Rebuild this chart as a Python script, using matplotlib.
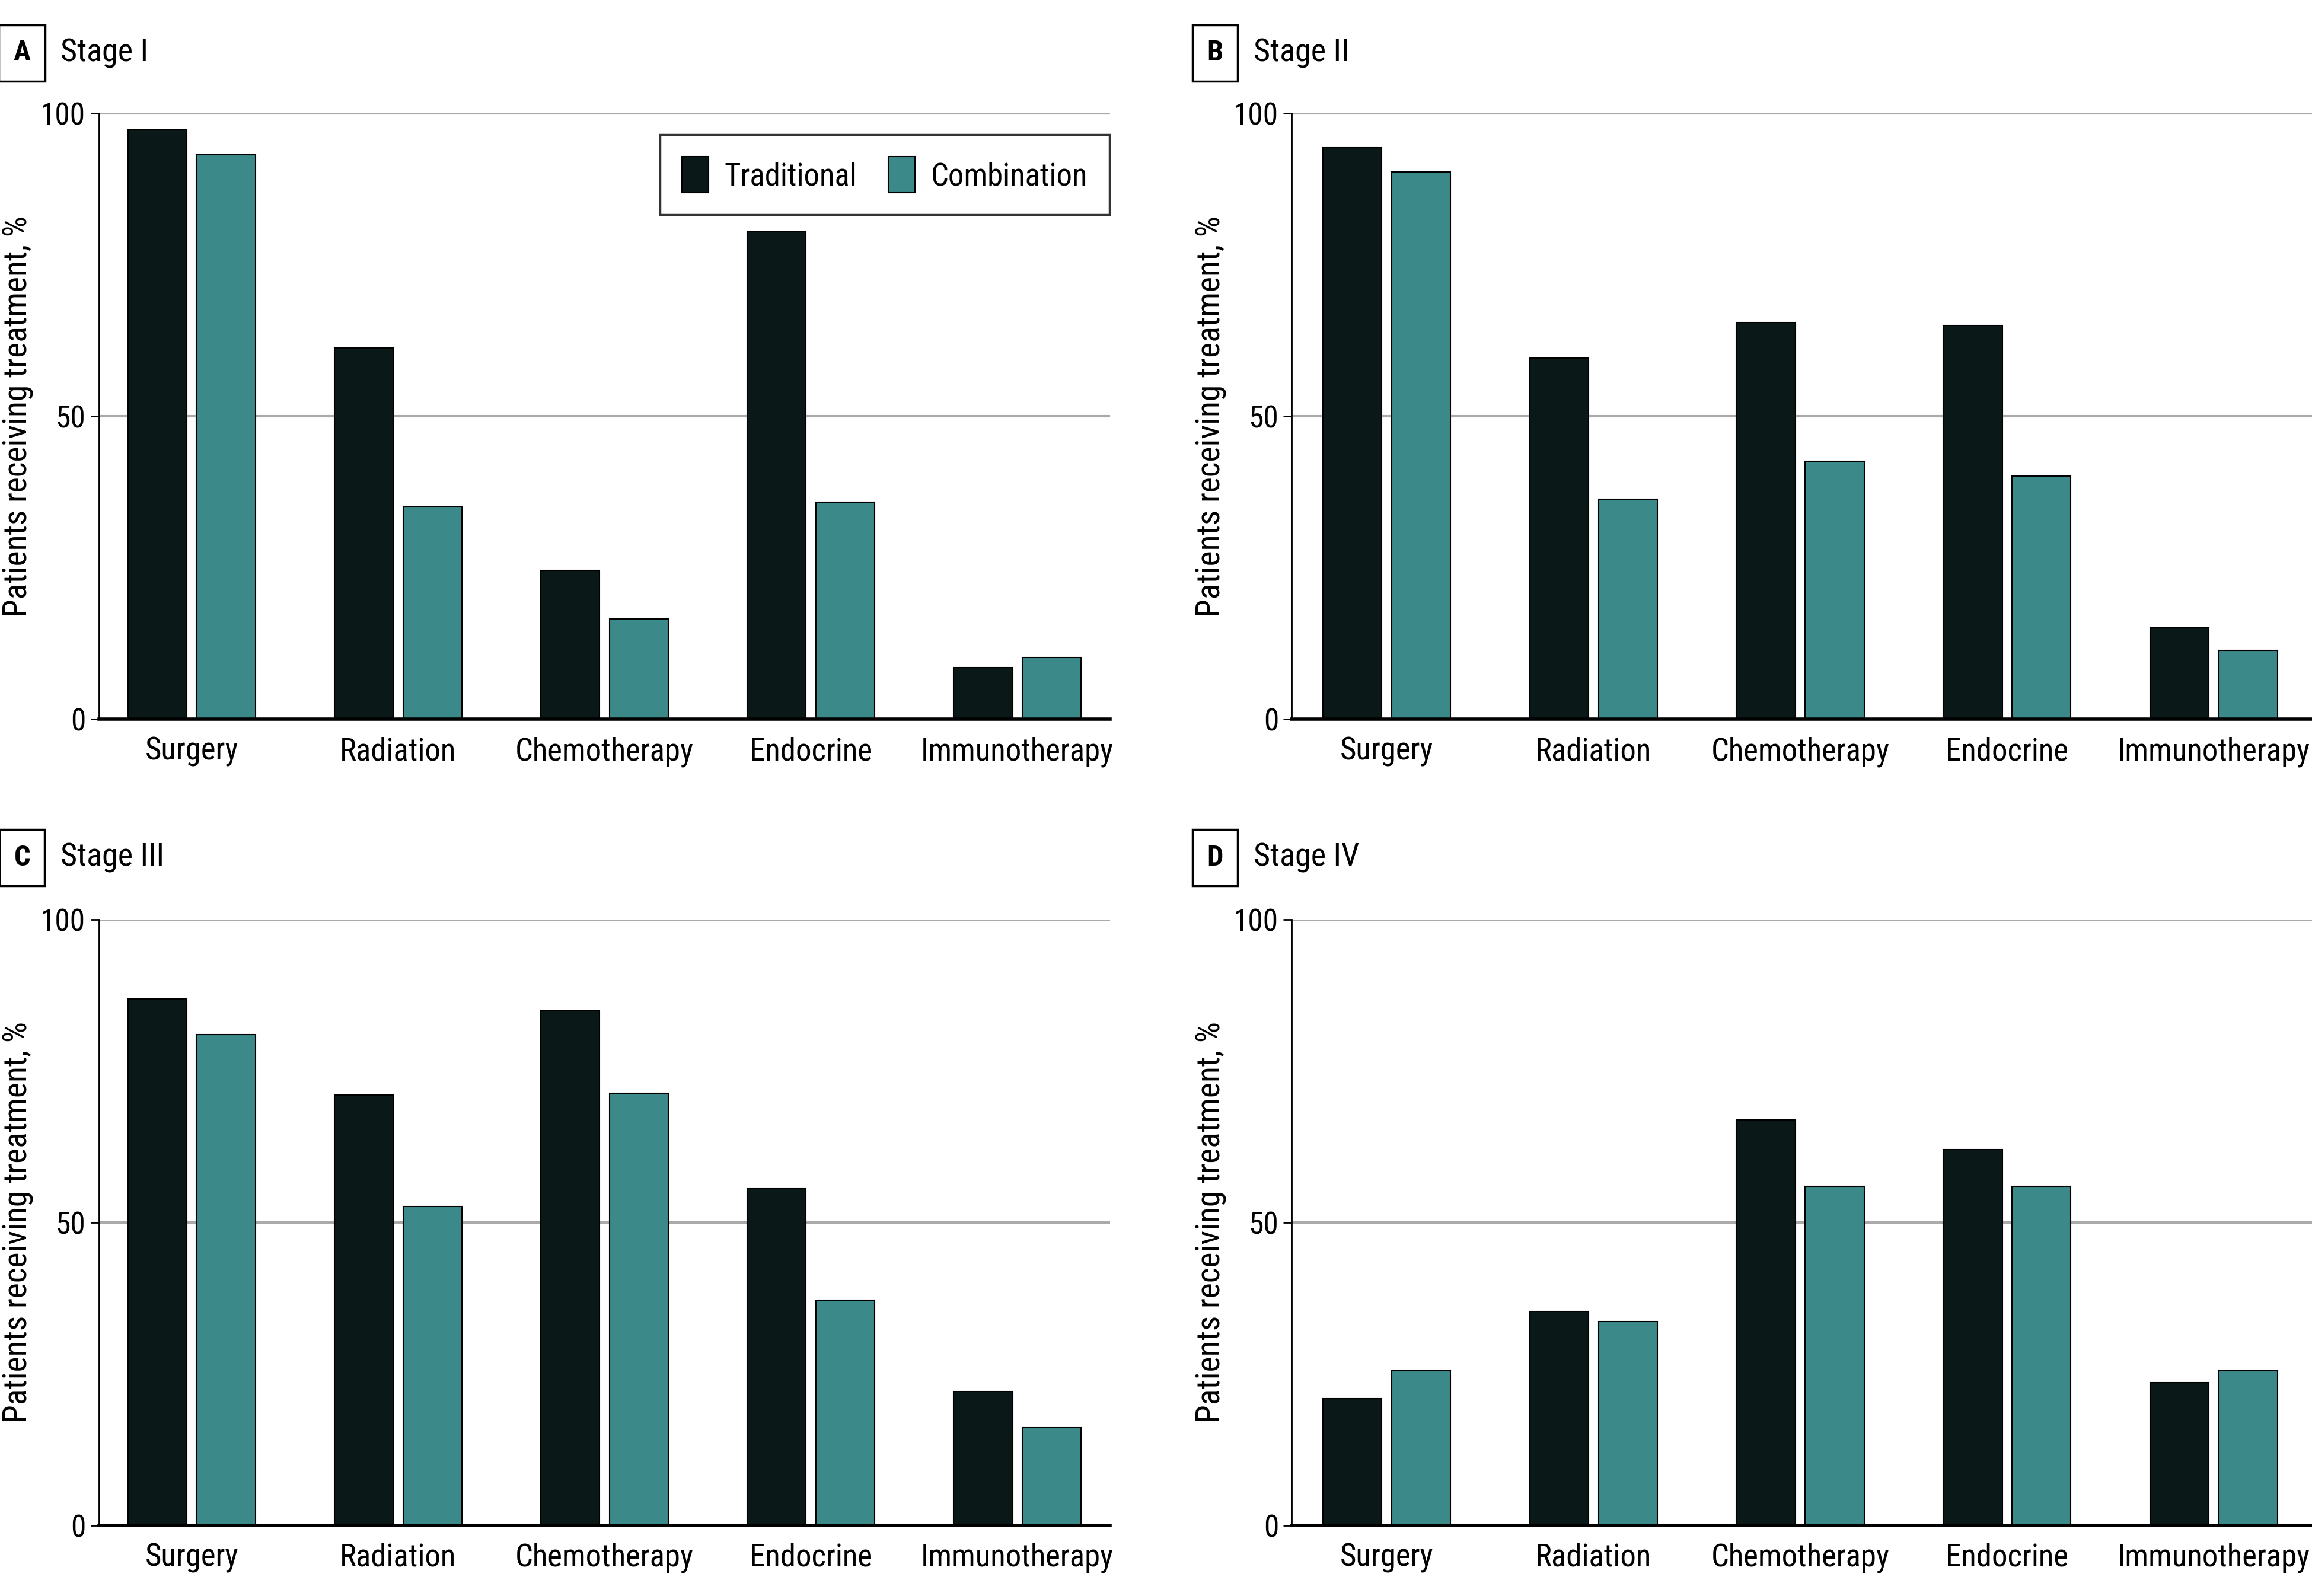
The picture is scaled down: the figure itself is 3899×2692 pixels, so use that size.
import matplotlib
matplotlib.use("Agg")
import matplotlib.pyplot as plt
import numpy as np
from matplotlib import font_manager

# pick a narrow sans if one is installed
names = {f.name for f in font_manager.fontManager.ttflist}
font = "DejaVu Sans"
for cand in ["Liberation Sans Narrow", "Roboto Condensed", "Open Sans Condensed",
             "Noto Sans Condensed", "DejaVu Sans Condensed"]:
    if cand in names:
        font = cand
        break
plt.rcParams["font.family"] = [font, "DejaVu Sans"]
plt.rcParams["font.stretch"] = "condensed"

categories = ["Surgery", "Radiation", "Chemotherapy", "Endocrine", "Immunotherapy"]
series_names = ["Traditional", "Combination"]

stage1_trad = [97.3, 61.3, 24.6, 80.5, 8.5]
stage1_comb = [93.2, 35.0, 16.5, 35.8, 10.2]
stage2_trad = [94.4, 59.6, 65.5, 65.0, 15.1]
stage2_comb = [90.3, 36.3, 42.6, 40.1, 11.4]
stage3_trad = [86.9, 71.0, 84.9, 55.7, 22.1]
stage3_comb = [81.0, 52.6, 71.3, 37.2, 16.1]
stage4_trad = [20.9, 35.3, 66.9, 62.0, 23.6]
stage4_comb = [25.5, 33.6, 56.0, 56.0, 25.5]

panel_letters = ["A", "B", "C", "D"]
panel_titles = ["Stage I", "Stage II", "Stage III", "Stage IV"]
panel_data = [(stage1_trad, stage1_comb), (stage2_trad, stage2_comb),
              (stage3_trad, stage3_comb), (stage4_trad, stage4_comb)]

c_trad = "#0a1818"
c_comb = "#3c898a"

W, H = 3899, 2692
fig = plt.figure(figsize=(W / 100, H / 100), dpi=100)

# axes boxes in small-reference pixel coords (1568 x 1083)
sw, sh = 1568, 1083
boxes = [(67, 753, 77, 488), (876, 1568, 77, 488),
         (67, 753, 624, 1035), (876, 1568, 624, 1035)]

x = np.arange(len(categories))
bw = 0.285
off = 0.166

for i, (l, r, t, b) in enumerate(boxes):
    ax = fig.add_axes([l / sw, 1 - b / sh, (r - l) / sw, (b - t) / sh])
    trad, comb = panel_data[i]
    ax.bar(x - off, trad, bw, color=c_trad, edgecolor="black", linewidth=1.5,
           label=series_names[0], zorder=3)
    ax.bar(x + off, comb, bw, color=c_comb, edgecolor="black", linewidth=1.5,
           label=series_names[1], zorder=3)
    if i % 2 == 0:
        ax.set_xlim(-0.45, 4.45)
    else:
        ax.set_xlim(-0.46, 4.475)  # right column runs to the page edge
    ax.set_ylim(0, 100)
    ax.set_yticks([0, 50, 100])
    ax.set_xticks(x)
    ax.set_xticklabels(categories)
    ax.tick_params(axis="x", length=0, pad=21, labelsize=38)
    ax.tick_params(axis="y", length=10, width=2, pad=6, labelsize=37)
    for yv in [50, 100]:
        ax.axhline(yv, color="#aaaaaa", lw=3, zorder=1)
    ax.spines["top"].set_visible(False)
    ax.spines["right"].set_visible(False)
    ax.spines["left"].set_linewidth(2)
    ax.spines["bottom"].set_linewidth(4)
    ax.spines["bottom"].set_zorder(4)
    ax.set_ylabel("Patients receiving treatment, %", fontsize=40)
    ax.yaxis.set_label_coords(-0.064 * 686 / (r - l), 0.5)

    # panel letter box and title
    ty = 1 - 36 / sh if i < 2 else 1 - 582 / sh
    fig.text((l - 52) / sw, ty, panel_letters[i], fontsize=35, fontweight="bold",
             va="center", ha="center",
             bbox=dict(boxstyle="square,pad=0.5", fc="white", ec="black", lw=2.5))
    fig.text((l - 26) / sw, ty, panel_titles[i], fontsize=39, va="center", ha="left")

    if i == 0:
        leg = ax.legend(loc="upper right", ncol=2, fontsize=38, frameon=True,
                        fancybox=False, edgecolor="black", handlelength=0.85,
                        handleheight=1.4, columnspacing=1.0, handletextpad=0.5,
                        borderpad=0.7, borderaxespad=0,
                        bbox_to_anchor=(0.999, 0.965))
        leg.get_frame().set_linewidth(2.5)

fig.savefig("out.png", dpi=100)
